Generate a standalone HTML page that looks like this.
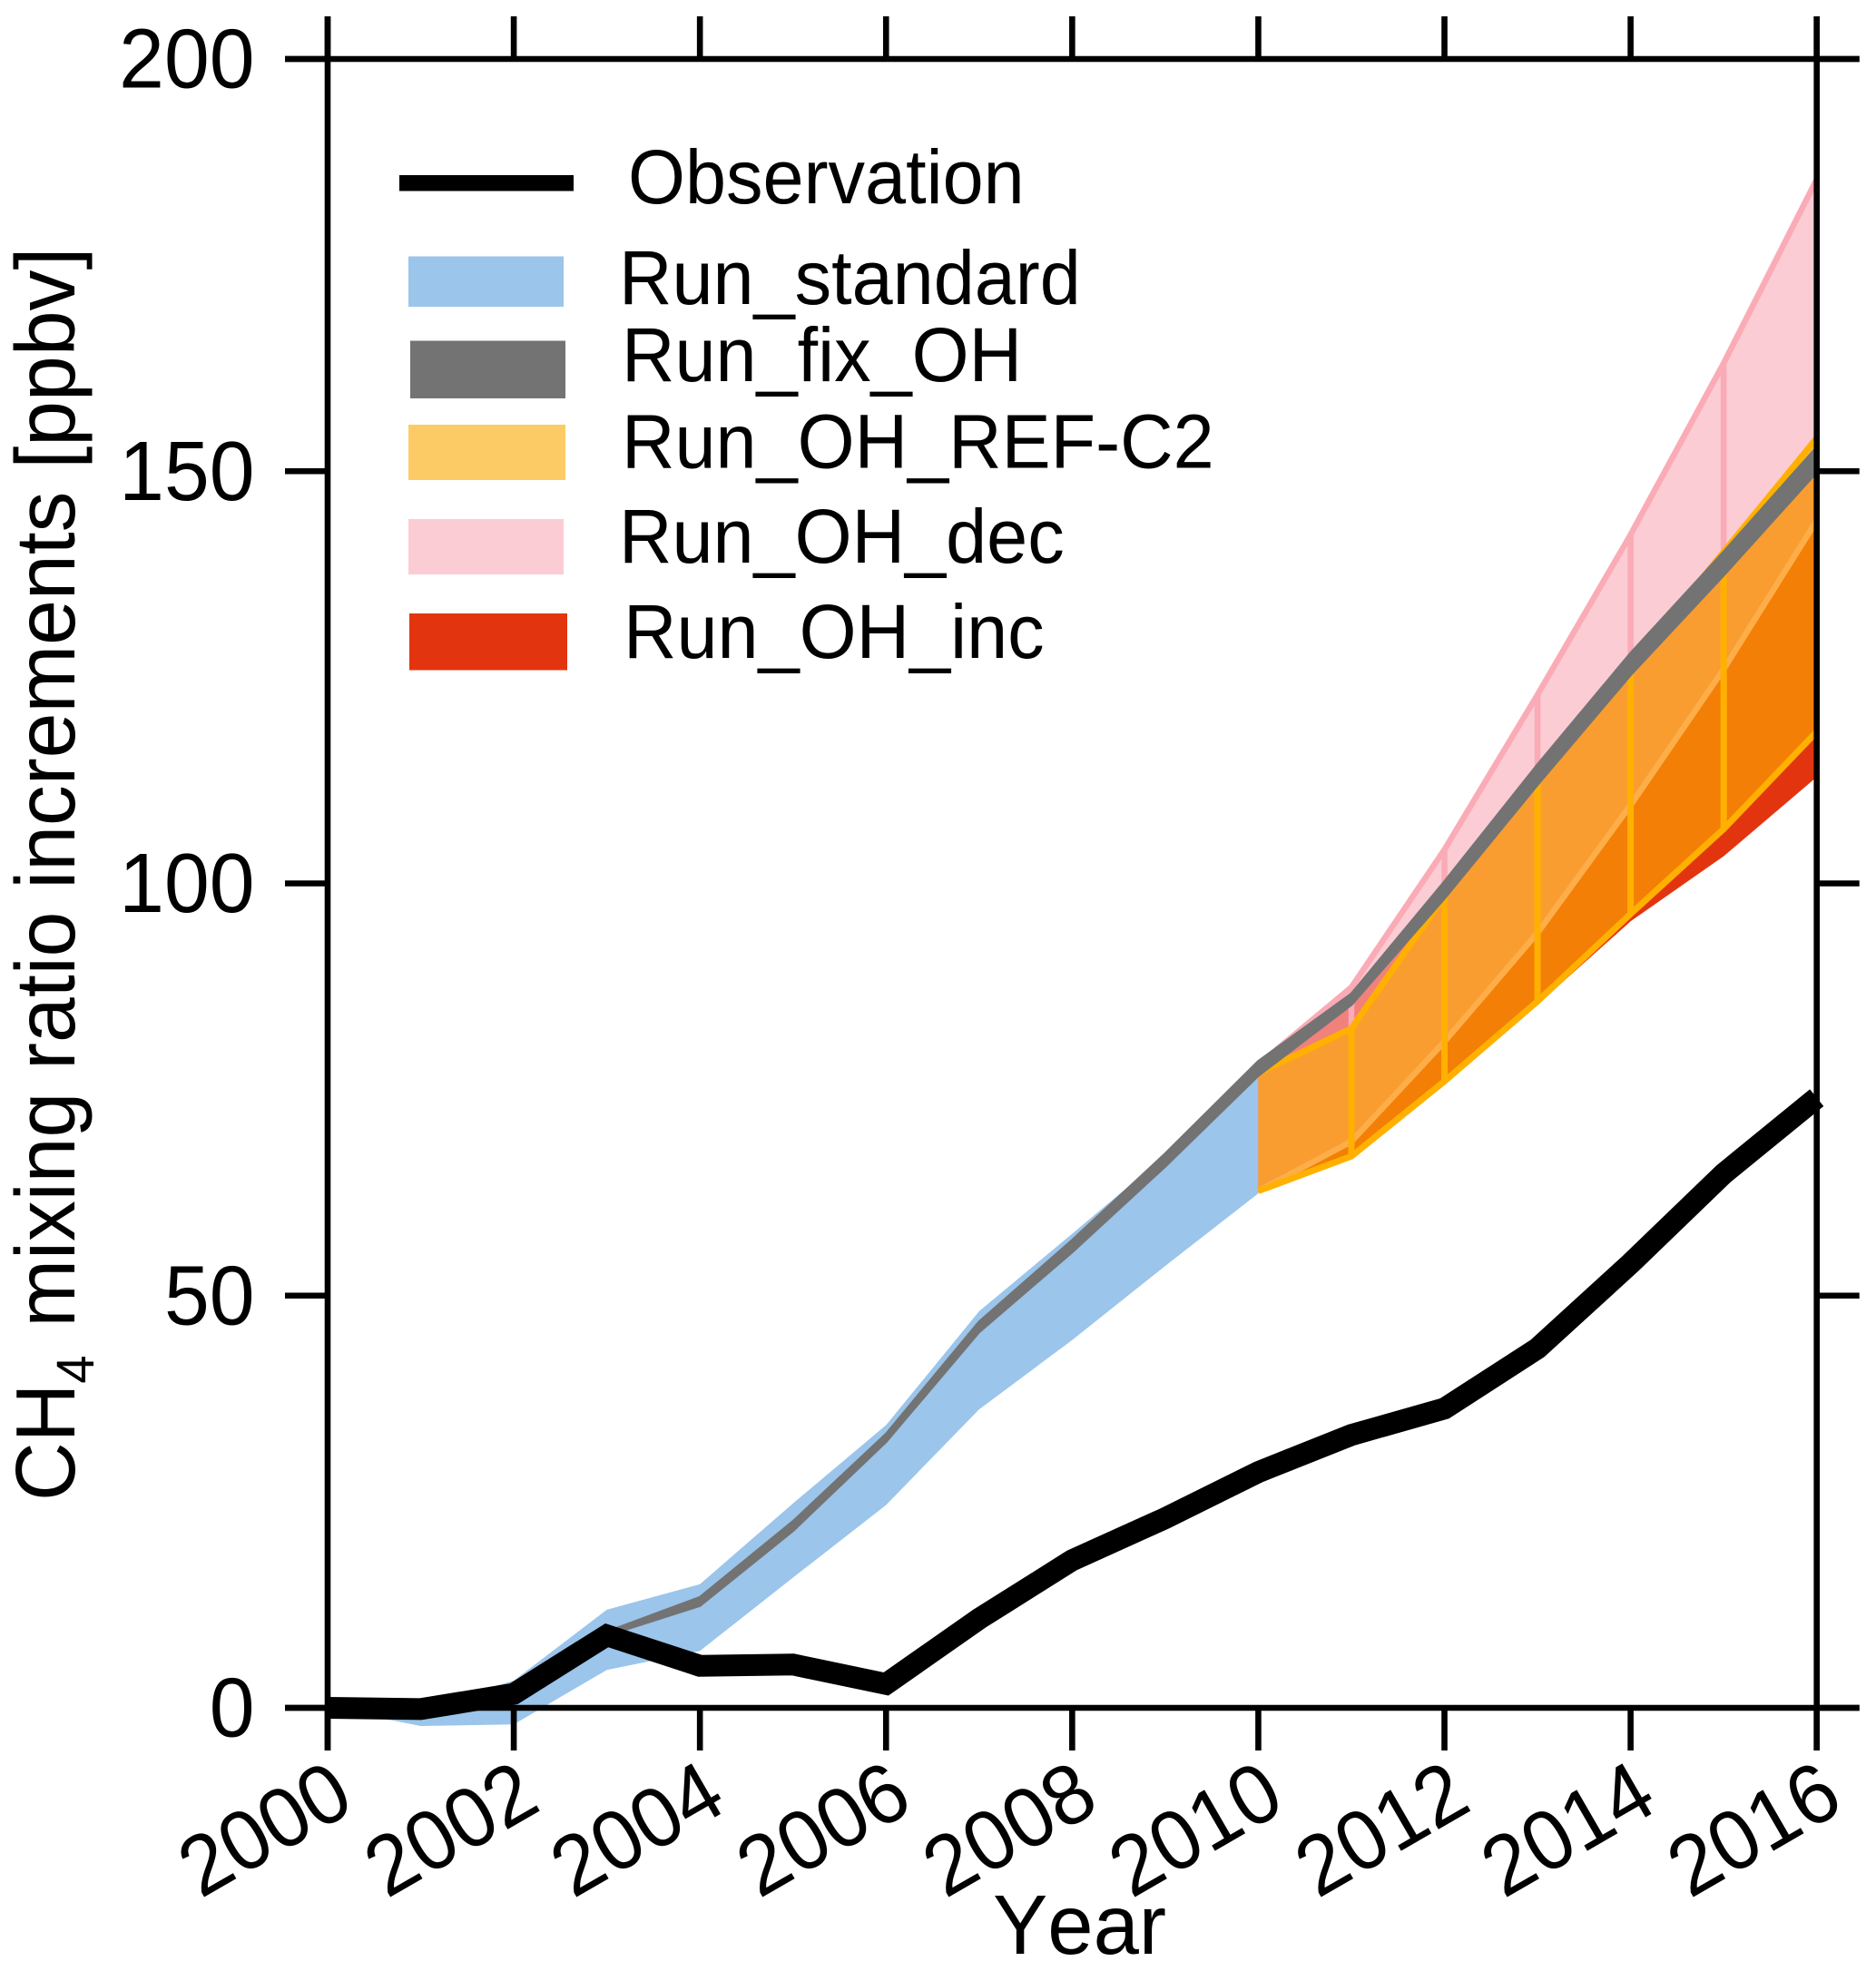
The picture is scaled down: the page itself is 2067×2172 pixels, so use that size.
<!DOCTYPE html>
<html lang="en">
<head>
<meta charset="utf-8">
<title>CH4 mixing ratio increments</title>
<style>
html,body{margin:0;padding:0;background:#fff;}
svg{display:block;font-family:"Liberation Sans",Arial,sans-serif;}
</style>
</head>
<body>
<svg id="chart" xmlns="http://www.w3.org/2000/svg" width="2067" height="2172" viewBox="0 0 2067 2172">
  <rect width="2067" height="2172" fill="#fff"/>
  <g id="marks"></g>
  <g id="axes"></g>
  <g id="obs-layer"></g>
  <text transform="translate(1094,2153) scale(1,1.04)" font-size="89.5" textLength="191" lengthAdjust="spacingAndGlyphs" style="font-kerning:none">Year</text>
  <text transform="translate(82,1654) rotate(-90) scale(1,1.04)" font-size="89.6">CH<tspan font-size="56" dy="20">4</tspan><tspan dy="-20" dx="6"> mixing ratio increments [ppbv]</tspan></text>
  <g font-size="81">
    <rect x="440" y="193" width="192" height="17.5" fill="#000"/>
    <text transform="translate(692,224) scale(1,1.04)">Observation</text>
    <rect x="450" y="282.5" width="171" height="55.5" fill="#9bc5eb"/>
    <text transform="translate(682,335) scale(1,1.04)">Run_standard</text>
    <rect x="452" y="375.5" width="171" height="63.5" fill="#737373"/>
    <text transform="translate(685,420) scale(1,1.04)">Run_fix_OH</text>
    <rect x="450" y="468" width="173" height="61" fill="#fdcb66"/>
    <text transform="translate(685,515.5) scale(1,1.04)">Run_OH_REF-C2</text>
    <rect x="450" y="572" width="171" height="61" fill="#fbccd4"/>
    <text transform="translate(682,620) scale(1,1.04)">Run_OH_dec</text>
    <rect x="451" y="676" width="174" height="62.5" fill="#e2350f"/>
    <text transform="translate(687,725) scale(1,1.04)">Run_OH_inc</text>
  </g>
</svg>
<script>
const xTickYears = [2000,2002,2004,2006,2008,2010,2012,2014,2016];
const yTickValues = [0,50,100,150,200];

const obsYears = [2000,2001,2002,2003,2004,2005,2006,2007,2008,2009,2010,2011,2012,2013,2014,2015,2016];
const obsValues = [0,-0.15,1.7,8.8,5.1,5.25,2.9,10.8,17.9,23,28.6,33.1,36.3,43.6,53.9,64.8,74];

const standardYears = [2000,2001,2002,2003,2004,2005,2006,2007,2008,2009,2010];
const standardUpper = [0,0,3.3,11.9,15,24.8,34.3,48.1,57.5,67,78];
const standardLower = [0,-2.2,-2,4.6,6.9,15.8,24.6,36.2,44.6,53.6,62.4];

const fixYears = [2003,2004,2005,2006,2007,2008,2009,2010,2011,2012,2013,2014,2015,2016];
const fixUpper = [9.2,13.4,22.6,33.2,46.8,56.7,67.2,78.4,86.6,100.2,114.4,127.9,140.2,152.9];
const fixLower = [8.8,12.4,21.5,32.3,45.6,55.3,65.7,76.7,85.3,98.2,112,125.3,137.4,149.9];

const scenarioYears = [2010,2011,2012,2013,2014,2015,2016];
const refUpper = [77,82.4,98.5,113,126.4,140.2,154];
const refLower = [62.7,66.9,76,85.7,96.3,106.6,118.4];
const decUpper = [78,87.4,104.1,122.9,142.3,163.1,185.4];
const decLower = [62.7,68.7,80.8,94,109.5,126,144];
const incUpper = [77,85.5,98.5,112.5,125.5,137.5,150];
const incLower = [62.5,66.6,75.8,85.3,95.4,103.3,112.9];

const SVGNS = 'http://www.w3.org/2000/svg';
const X0 = 361, X1 = 2001.7, Y0 = 1882, Y200 = 65;
function xs(year){ return X0 + (year - 2000) * (X1 - X0) / 16; }
function ys(v){ return Y0 + (Y200 - Y0) * v / 200; }
function mk(parent, tag, attrs){
  const el = document.createElementNS(SVGNS, tag);
  for (const k in attrs) el.setAttribute(k, attrs[k]);
  parent.appendChild(el);
  return el;
}
function linePts(years, vals){
  return years.map((y,i)=>xs(y).toFixed(1)+','+ys(vals[i]).toFixed(1)).join(' ');
}
function bandPts(years, up, lo){
  const a = years.map((y,i)=>xs(y).toFixed(1)+','+ys(up[i]).toFixed(1));
  const b = years.map((y,i)=>xs(y).toFixed(1)+','+ys(lo[i]).toFixed(1)).reverse();
  return a.concat(b).join(' ');
}

const marks = document.getElementById('marks');

const standardBand = mk(marks, 'polygon', {points: bandPts(standardYears, standardUpper, standardLower), fill:'#9bc5eb'});



const incBand = mk(marks, 'polygon', {points: bandPts(scenarioYears, incUpper, incLower), fill:'#e2350f'});



const decBand = mk(marks, 'polygon', {points: bandPts(scenarioYears, decUpper, decLower), fill:'rgb(249,174,187)', 'fill-opacity':0.63});



const decEdgeUpper = mk(marks, 'polyline', {points: linePts(scenarioYears, decUpper), fill:'none', stroke:'#faabb6', 'stroke-width':6.5});


const decEdgeLower = mk(marks, 'polyline', {points: linePts(scenarioYears, decLower), fill:'none', stroke:'#faabb6', 'stroke-width':6.5});


scenarioYears.forEach((y,i)=>{
  if (i === 0 || i === scenarioYears.length - 1) return;
  const v = mk(marks, 'line', {x1:xs(y), x2:xs(y), y1:ys(decUpper[i]), y2:ys(decLower[i]), stroke:'#faabb6', 'stroke-width':6.5});
  
  
});

const refBand = mk(marks, 'polygon', {points: bandPts(scenarioYears, refUpper, refLower), fill:'#ffb000', 'fill-opacity':0.6});


const refEdgeUpper = mk(marks, 'polyline', {points: linePts(scenarioYears, refUpper), fill:'none', stroke:'#ffb000', 'stroke-width':7});


const refEdgeLower = mk(marks, 'polyline', {points: linePts(scenarioYears, refLower), fill:'none', stroke:'#ffb000', 'stroke-width':7});


scenarioYears.forEach((y,i)=>{
  if (i === 0 || i === scenarioYears.length - 1) return;
  const v = mk(marks, 'line', {x1:xs(y), x2:xs(y), y1:ys(refUpper[i]), y2:ys(refLower[i]), stroke:'#ffb000', 'stroke-width':7});
  
  
});

const fixBand = mk(marks, 'polygon', {points: bandPts(fixYears, fixUpper, fixLower), fill:'#737373', stroke:'#737373', 'stroke-width':3});



const axes = document.getElementById('axes');
const AXW = 6.6, TICK = 47;
const spines = [
  {n:'left-spine', x1:X0, y1:Y200-TICK, x2:X0, y2:Y0+TICK},
  {n:'right-spine', x1:X1, y1:Y200-TICK, x2:X1, y2:Y0+TICK},
  {n:'top-spine', x1:X0-TICK, y1:Y200, x2:X1+TICK, y2:Y200},
  {n:'bottom-spine', x1:X0-TICK, y1:Y0, x2:X1+TICK, y2:Y0}
];
spines.forEach(s=>{
  const l = mk(axes, 'line', {x1:s.x1, y1:s.y1, x2:s.x2, y2:s.y2, stroke:'#000', 'stroke-width':AXW});
  
  
});
xTickYears.forEach(year=>{
  const x = xs(year);
  const tb = mk(axes, 'line', {x1:x, x2:x, y1:Y0, y2:Y0+TICK, stroke:'#000', 'stroke-width':AXW});
  
  
  const tt = mk(axes, 'line', {x1:x, x2:x, y1:Y200-TICK, y2:Y200, stroke:'#000', 'stroke-width':AXW});
  
  
  const t = mk(axes, 'text', {transform:'translate('+(x-69.5)+',2015.5) rotate(-30) scale(1,1.04)', 'text-anchor':'middle', y:30.5, 'font-size':89.5});
  
  
  t.textContent = year;
});
yTickValues.forEach(val=>{
  const y = ys(val);
  const tl = mk(axes, 'line', {x1:X0-TICK, x2:X0, y1:y, y2:y, stroke:'#000', 'stroke-width':AXW});
  
  
  const tr = mk(axes, 'line', {x1:X1, x2:X1+TICK, y1:y, y2:y, stroke:'#000', 'stroke-width':AXW});
  
  
  const t = mk(axes, 'text', {transform:'translate(280.5,'+(y+31.5)+') scale(1,1.04)', 'text-anchor':'end', 'font-size':89.5});
  
  
  t.textContent = val;
});

const obsLayer = document.getElementById('obs-layer');
const obsLine = mk(obsLayer, 'polyline', {points: linePts(obsYears, obsValues), fill:'none', stroke:'#000', 'stroke-width':24, 'stroke-linejoin':'miter', 'stroke-linecap':'butt'});


</script>
</body>
</html>
